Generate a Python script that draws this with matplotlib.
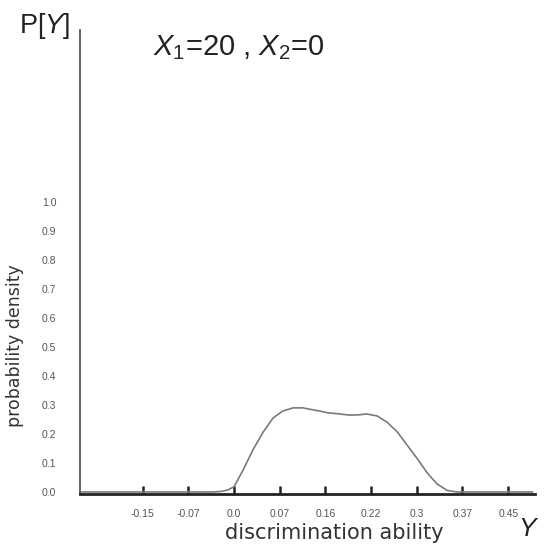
import matplotlib
matplotlib.use('Agg')
import matplotlib.pyplot as plt

plt.rcParams['font.family'] = ['Liberation Sans', 'DejaVu Sans']
plt.rcParams['mathtext.fontset'] = 'custom'
plt.rcParams['mathtext.rm'] = 'Liberation Sans'
plt.rcParams['mathtext.it'] = 'Liberation Sans:italic'

# tick positions (evenly spaced) and the labels printed on them
xtick_pos = [-0.15, -0.075, 0.0, 0.075, 0.15, 0.225, 0.3, 0.375, 0.45]
xtick_labels = ['-0.15', '-0.07', '0.0', '0.07', '0.16', '0.22', '0.3', '0.37', '0.45']
ytick_pos = [0.0, 0.1, 0.2, 0.3, 0.4, 0.5, 0.6, 0.7, 0.8, 0.9, 1.0]
ytick_labels = ['0.0', '0.1', '0.2', '0.3', '0.4', '0.5', '0.6', '0.7', '0.8', '0.9', '1.0']

# density curve
y_vals = [-0.25, -0.035, -0.02, -0.01, 0.0, 0.015, 0.031, 0.048, 0.064, 0.080,
          0.097, 0.113, 0.130, 0.141, 0.154, 0.169, 0.190, 0.205, 0.218, 0.235,
          0.251, 0.268, 0.284, 0.300, 0.317, 0.333, 0.350, 0.366, 0.49]
density = [0.0, 0.0, 0.002, 0.007, 0.018, 0.076, 0.145, 0.207, 0.255, 0.279,
           0.29, 0.29, 0.283, 0.279, 0.273, 0.270, 0.265, 0.266, 0.269, 0.262,
           0.241, 0.207, 0.162, 0.117, 0.066, 0.028, 0.005, 0.0, 0.0]

W, H = 553, 554
fig = plt.figure(figsize=(W / 100., H / 100.), dpi=100)
ax = fig.add_axes([80. / W, 1 - 494. / H, 455. / W, 464. / H])

ax.plot(y_vals, density, color='#7a7a7a', lw=1.2, solid_joinstyle='round')

ax.set_xlim(-0.2528, 0.494)
ax.set_ylim(-0.007, 1.593)

for s in ('top', 'right'):
    ax.spines[s].set_visible(False)
ax.spines['bottom'].set_linewidth(2.0)
ax.spines['bottom'].set_color('#222222')
ax.spines['left'].set_linewidth(1.3)
ax.spines['left'].set_color('#555555')

ax.set_xticks(xtick_pos)
ax.set_xticklabels(xtick_labels)
ax.set_yticks(ytick_pos)
ax.set_yticklabels(ytick_labels)
ax.tick_params(axis='x', direction='in', length=6, width=1.8, color='#222222',
               pad=11, labelsize=7.5, labelcolor='#555555')
ax.tick_params(axis='y', length=0, pad=17, labelsize=7.5, labelcolor='#555555')

ax.set_xlabel('discrimination ability', fontsize=15, color='#333333',
              family='DejaVu Sans')
ax.xaxis.set_label_coords(0.56, -0.062)
ax.set_ylabel('probability density', fontsize=12.5, color='#333333',
              family='DejaVu Sans')
ax.yaxis.set_label_coords(-0.122, 0.32)

fig.text(45. / W, 1 - 26. / H, r'P[$Y$]', fontsize=19.5, color='#222222',
         ha='center', va='center')
fig.text(153. / W, 1 - 55. / H, r'$X_1$=20 , $X_2$=0', fontsize=21,
         color='#222222', ha='left', va='baseline')
fig.text(529. / W, 1 - 529. / H, r'$Y$', fontsize=19, color='#222222',
         ha='center', va='center')

plt.savefig('out.png', dpi=100)
plt.close()
